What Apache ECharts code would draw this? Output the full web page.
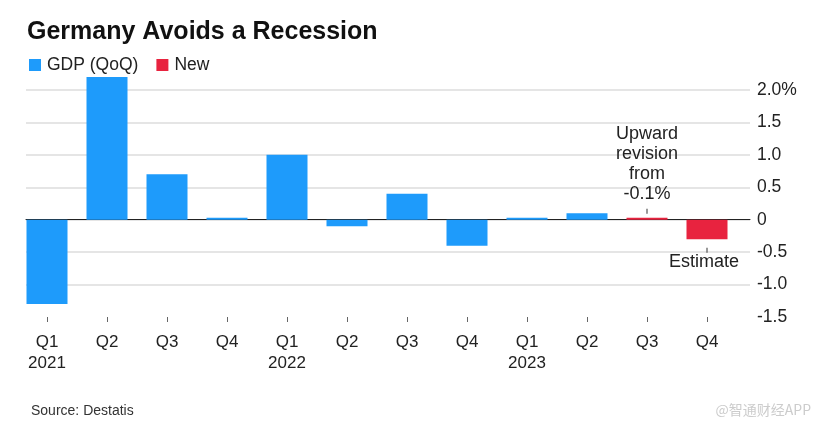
<!DOCTYPE html>
<html>
<head>
<meta charset="utf-8">
<script src="https://cdn.jsdelivr.net/npm/echarts@6/dist/echarts.min.js"></script>
<style>
html,body{margin:0;padding:0;background:#fff;}
#chart{width:826px;height:428px;}
</style>
</head>
<body>
<div id="chart"></div>
<script>
// ---- data ----
var categories = ['2021 Q1','2021 Q2','2021 Q3','2021 Q4','2022 Q1','2022 Q2','2022 Q3','2022 Q4','2023 Q1','2023 Q2','2023 Q3','2023 Q4'];
var gdpValues = [-1.3, 2.2, 0.7, 0.0, 1.0, -0.1, 0.4, -0.4, 0.0, 0.1, '-', '-'];
var newValues = ['-', '-', '-', '-', '-', '-', '-', '-', '-', '-', 0.0, -0.3];
var yTicks = [-1.5, -1.0, -0.5, 0, 0.5, 1.0, 1.5, 2.0];
var revisionNote = 'Upward\nrevision\nfrom\n-0.1%';
var estimateNote = 'Estimate';

var FONT = 'Liberation Sans, Arial, sans-serif';
var BLUE = '#1e9bfb';
var RED = '#e8233f';

var chart = echarts.init(document.getElementById('chart'), null, {renderer:'canvas'});

function catLabel(v){
  var p = v.split(' ');
  return p[1] === 'Q1' ? p[1] + '\n' + p[0] : p[1];
}

var option = {
  animation: false,
  backgroundColor: '#fff',
  textStyle: {fontFamily: FONT},
  title: [{
    text: 'Germany Avoids a Recession',
    left: 22, top: 15,
    textStyle: {fontFamily: FONT, fontSize: 25, fontWeight: 'bold', color: '#111'}
  }, {
    text: 'Source: Destatis',
    left: 26, top: 399,
    textStyle: {fontFamily: FONT, fontSize: 14, fontWeight: 'normal', color: '#333'}
  }, {
    text: '@智通财经APP',
    right: 10, top: 398,
    textStyle: {fontFamily: 'Noto Sans CJK SC', fontSize: 14, fontWeight: 'normal', color: '#cccccc'}
  }],
  legend: {
    left: 24, top: 51,
    icon: 'rect', itemWidth: 12, itemHeight: 12, itemGap: 18,
    textStyle: {fontFamily: FONT, fontSize: 17.5, color: '#222', padding: [0,0,0,1]},
    data: ['GDP (QoQ)', 'New']
  },
  grid: [
    {left: 26, right: 76, top: 90, bottom: 111},
    {left: 17, right: 89, top: 90, bottom: 111}
  ],
  xAxis: [{
    gridIndex: 0, type: 'category', data: categories,
    axisLine: {show: true, onZero: true, lineStyle: {color: '#222', width: 1}},
    axisTick: {show: false}, axisLabel: {show: false}, splitLine: {show: false}
  }, {
    gridIndex: 1, type: 'category', data: categories, position: 'bottom',
    axisLine: {show: false, onZero: false},
    axisTick: {show: true, alignWithLabel: true, length: 5, lineStyle: {color: '#666'}},
    axisLabel: {
      margin: 15, fontFamily: FONT, fontSize: 17, color: '#222', lineHeight: 21,
      formatter: catLabel, interval: 0
    }
  }],
  yAxis: [{
    gridIndex: 0, type: 'value', position: 'right',
    min: yTicks[0], max: yTicks[yTicks.length-1], interval: 0.5,
    axisLine: {show: false}, axisTick: {show: false},
    axisLabel: {
      margin: 7, align: 'left', fontFamily: FONT, fontSize: 17.5, color: '#222',
      formatter: function(v){
        if (v === 0) return '0';
        var s = v.toFixed(1);
        return v === yTicks[yTicks.length-1] ? s + '%' : s;
      }
    },
    splitLine: {show: true, lineStyle: {color: ['rgba(0,0,0,0)','#dcdcdc','#dcdcdc','#dcdcdc','#dcdcdc','#dcdcdc','#dcdcdc','#dcdcdc'], width: 1.5}}
  }, {
    gridIndex: 1, type: 'value',
    min: yTicks[0], max: yTicks[yTicks.length-1], interval: 0.5,
    show: false, splitLine: {show: false}
  }],
  series: [{
    name: 'GDP (QoQ)', type: 'bar', xAxisIndex: 1, yAxisIndex: 1,
    stack: 'g', data: gdpValues, barWidth: 41, barMinHeight: 2, clip: false,
    itemStyle: {color: BLUE}
  }, {
    name: 'New', type: 'bar', xAxisIndex: 1, yAxisIndex: 1,
    stack: 'g', data: newValues, barWidth: 41, barMinHeight: 2, clip: false,
    itemStyle: {color: RED},
    markPoint: {
      silent: true,
      data: [
        {coord: [10, 0.13], symbol: 'rect', symbolSize: [1.2, 5], itemStyle: {color: '#555'}, label: {show: false}},
        {coord: [11, -0.47], symbol: 'rect', symbolSize: [1.2, 5], itemStyle: {color: '#555'}, label: {show: false}},
        {coord: [10, 0.86], symbol: 'rect', symbolSize: 0,
          label: {show: true, position: 'inside', formatter: revisionNote, fontFamily: FONT, fontSize: 18, lineHeight: 20, color: '#222', align: 'center'}},
        {coord: [11, -0.66], symbol: 'rect', symbolSize: 0,
          label: {show: true, position: 'inside', formatter: estimateNote, fontFamily: FONT, fontSize: 18, color: '#222', offset: [-3, 0]}}
      ]
    }
  }]
};
chart.setOption(option);
</script>
</body>
</html>
